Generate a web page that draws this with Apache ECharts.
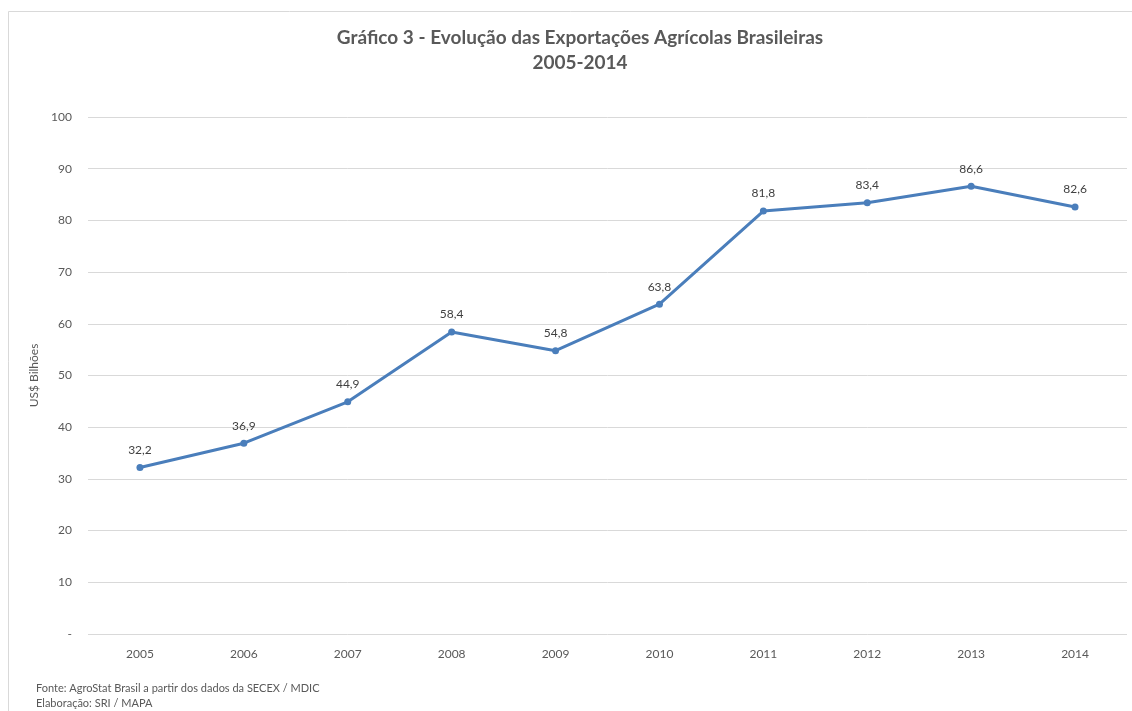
<!DOCTYPE html>
<html><head><meta charset="utf-8">
<script src="https://cdn.jsdelivr.net/npm/echarts@6/dist/echarts.min.js"></script>
<style>html,body{margin:0;padding:0;background:#fff}#c{width:1132px;height:711px}</style>
</head><body><div id="c"></div>
<script>
const years = ['2005','2006','2007','2008','2009','2010','2011','2012','2013','2014'];
const exportsUSD = [32.2, 36.9, 44.9, 58.4, 54.8, 63.8, 81.8, 83.4, 86.6, 82.6];
const titleLines = ['Gráfico 3 - Evolução das Exportações Agrícolas Brasileiras', '2005-2014'];
const yAxisName = 'US$ Bilhões';
const sourceLines = ['Fonte: AgroStat Brasil a partir dos dados da SECEX / MDIC', 'Elaboração: SRI / MAPA'];

const FONT = 'Lato, "Open Sans", sans-serif';
const chart = echarts.init(document.getElementById('c'), null, {renderer: 'canvas'});
chart.setOption({
  backgroundColor: '#fff',
  animation: false,
  title: {
    text: titleLines.join('\n'),
    left: 575, top: 20, textAlign: 'center',
    textStyle: {fontFamily: FONT, fontSize: 19, fontWeight: 'bold', color: '#595959', lineHeight: 25}
  },
  graphic: [
    {type: 'polyline', shape: {points: [[8.5, 711], [8.5, 11.5], [1132, 11.5]]}, style: {stroke: '#d9d9d9', lineWidth: 1, fill: null}, silent: true},
    {type: 'text', left: 36, top: 681, style: {text: sourceLines.join('\n'), fontFamily: FONT, fontSize: 11, lineHeight: 15, fill: '#595959'}}
  ],
  grid: {left: 88, right: 5, top: 117, bottom: 77, containLabel: false},
  xAxis: {
    type: 'category', data: years, boundaryGap: true,
    axisLine: {show: false}, axisTick: {show: false},
    axisLabel: {fontFamily: FONT, fontSize: 12, color: '#595959', margin: 14}
  },
  yAxis: {
    type: 'value', min: 0, max: 100, interval: 10,
    name: yAxisName, nameLocation: 'middle', nameGap: 48, nameRotate: 90,
    nameTextStyle: {fontFamily: FONT, fontSize: 12, color: '#595959'},
    axisLine: {show: false}, axisTick: {show: false},
    axisLabel: {fontFamily: FONT, fontSize: 12, color: '#595959', margin: 16,
      formatter: v => v === 0 ? '-' : String(v)},
    splitLine: {lineStyle: {color: '#d9d9d9', width: 1}}
  },
  series: [{
    type: 'line', data: exportsUSD,
    lineStyle: {color: '#4a7ebb', width: 3},
    itemStyle: {color: '#4a7ebb'},
    symbol: 'circle', symbolSize: 7,
    label: {show: true, position: 'top', distance: 8, fontFamily: FONT, fontSize: 12, color: '#404040',
      formatter: p => p.value.toFixed(1).replace('.', ',')}
  }]
});
</script></body></html>
